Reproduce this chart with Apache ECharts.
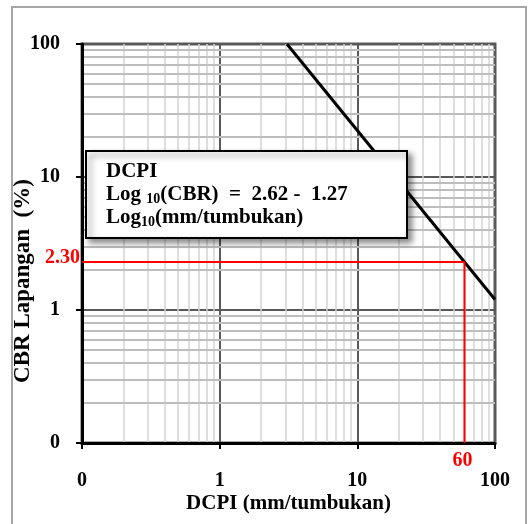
<!DOCTYPE html>
<html>
<head>
<meta charset="utf-8">
<script src="https://cdn.jsdelivr.net/npm/echarts@6/dist/echarts.min.js"></script>
<style>
  html, body { margin: 0; padding: 0; background: #fff; }
  #chart { width: 529px; height: 524px; }
</style>
</head>
<body>
<div id="chart"></div>
<script>
// DCPI vs field CBR, log-log plot
const xTickLabels = ['0', '1', '10', '100'];
const yTickLabels = ['0', '1', '10', '100'];

// correlation line end points (DCPI, CBR)
const lineDcpi = [3.08, 100];
const lineCbr = [100, 1.2];

// read-off point
const readDcpi = 60;
const readCbr = 2.30;

// equation coefficients shown in the note
const eqIntercept = 2.62;
const eqSlope = 1.27;

// log grid: decades and minor steps inside each decade
const decades = [0.1, 1, 10];
const minorSteps = [2, 3, 4, 5, 6, 7, 8, 9];

const FONT = 'Liberation Serif';
const minorValues = [];
decades.forEach(d => minorSteps.forEach(k => minorValues.push(+(d * k).toPrecision(6))));

const chart = echarts.init(document.getElementById('chart'), null, { renderer: 'canvas' });

const tickLabelStyle = {
  color: '#000', fontFamily: FONT, fontWeight: 'bold', fontSize: 20
};
const redLabel = {
  show: true, color: '#ff0000', fontFamily: FONT, fontWeight: 'bold', fontSize: 20
};

const option = {
  animation: false,
  backgroundColor: '#fff',
  grid: {
    left: 82, top: 44, width: 413, height: 399,
    show: true, borderColor: '#595959', borderWidth: 3, backgroundColor: '#fff',
    outerBoundsMode: 'none'
  },
  xAxis: {
    type: 'log', logBase: 10, min: 0.1, max: 100, z: 5,
    name: 'DCPI (mm/tumbukan)', nameLocation: 'middle', nameGap: 50, nameMoveOverlap: false,
    nameTextStyle: { color: '#000', fontFamily: FONT, fontWeight: 'bold', fontSize: 21 },
    axisLine: { show: true, lineStyle: { color: '#000', width: 3 } },
    axisTick: { show: true, inside: false, length: 6, lineStyle: { color: '#000', width: 2 } },
    axisLabel: {
      ...tickLabelStyle, margin: 28, showMinLabel: true, showMaxLabel: true,
      formatter: (v, i) => xTickLabels[i]
    },
    splitLine: { show: true, showMinLine: false, showMaxLine: false, lineStyle: { color: '#595959', width: 2 } },
    minorTick: { show: false },
    minorSplitLine: { show: false }
  },
  yAxis: {
    type: 'log', logBase: 10, min: 0.1, max: 100, z: 5,
    name: 'CBR Lapangan  (%)', nameLocation: 'middle', nameGap: 47, nameMoveOverlap: false,
    nameTextStyle: {
      color: '#000', fontFamily: FONT, fontWeight: 'bold', fontSize: 23,
      padding: [0, 75, 0, 0]
    },
    axisLine: { show: true, lineStyle: { color: '#000', width: 3 } },
    axisTick: { show: true, inside: false, length: 6, lineStyle: { color: '#000', width: 2 } },
    axisLabel: {
      ...tickLabelStyle, margin: 22, showMinLabel: true, showMaxLabel: true,
      formatter: (v, i) => yTickLabels[i]
    },
    splitLine: { show: true, showMinLine: false, showMaxLine: false, lineStyle: { color: '#595959', width: 2 } },
    minorTick: { show: false },
    minorSplitLine: { show: false }
  },
  series: [
    {
      // minor grid lines of the log paper
      type: 'line', data: [], z: 1, silent: true,
      markLine: {
        silent: true, symbol: ['none', 'none'], label: { show: false }, animation: false,
        data: [
          ...minorValues.map(v => ({ xAxis: v, lineStyle: { color: '#d4d4d4', width: 1.5, type: 'solid' } })),
          ...minorValues.map(v => ({ yAxis: v, lineStyle: { color: '#bdbdbd', width: 2, type: 'solid' } }))
        ]
      }
    },
    {
      // correlation line
      type: 'line', z: 6, silent: true, symbol: 'none',
      lineStyle: { color: '#000', width: 3 },
      data: lineDcpi.map((x, i) => [x, lineCbr[i]])
    },
    {
      // read-off guide for DCPI = 60
      type: 'line', z: 7, silent: true,
      symbol: 'circle', symbolSize: 0, showSymbol: true, showAllSymbol: true,
      itemStyle: { color: '#ff0000' },
      lineStyle: { color: '#ff0000', width: 2 },
      label: { show: false },
      data: [
        {
          value: [0.1, readCbr],
          label: {
            ...redLabel, position: 'left', distance: 2, offset: [0, -4],
            formatter: () => readCbr.toFixed(2)
          }
        },
        { value: [readDcpi, readCbr] },
        {
          value: [readDcpi, 0.1],
          label: {
            ...redLabel, position: 'bottom', distance: 8, offset: [-2, 0],
            formatter: () => String(readDcpi)
          }
        }
      ]
    }
  ],
  graphic: [
    {
      type: 'rect', z: 0, silent: true,
      shape: { x: 12, y: 7, width: 514, height: 530 },
      style: { fill: 'none', stroke: '#a6a6a6', lineWidth: 2 }
    },
    {
      type: 'rect', z: 20, silent: true,
      shape: { x: 86, y: 151, width: 321, height: 87 },
      style: {
        fill: '#fff', stroke: '#000', lineWidth: 2,
        shadowBlur: 6, shadowOffsetX: 4, shadowOffsetY: 4, shadowColor: 'rgba(0,0,0,0.45)'
      }
    },
    {
      type: 'text', z: 21, silent: true, x: 106, y: 160,
      style: {
        text: '{b|DCPI}\n' +
              '{b|Log }{s|10}{b|(CBR)  =  ' + eqIntercept.toFixed(2) + ' -  ' + eqSlope.toFixed(2) + '}\n' +
              '{b|Log}{s|10}{b|(mm/tumbukan)}',
        fill: '#000',
        rich: {
          b: { fill: '#000', fontFamily: FONT, fontWeight: 'bold', fontSize: 21, lineHeight: 23 },
          s: { fill: '#000', fontFamily: FONT, fontWeight: 'bold', fontSize: 14, lineHeight: 14, verticalAlign: 'bottom' }
        }
      }
    }
  ]
};

chart.setOption(option);
</script>
</body>
</html>
